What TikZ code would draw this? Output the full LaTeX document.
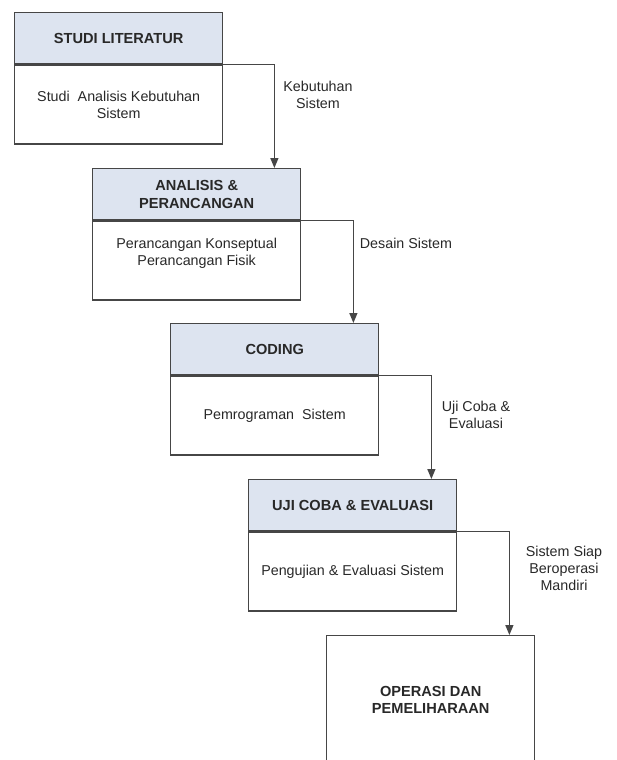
\documentclass[tikz,border=0pt]{standalone}
\usepackage{fontspec}
\setmainfont{Liberation Sans}
\usetikzlibrary{positioning,arrows.meta}
\definecolor{headfill}{RGB}{221,228,240}
\definecolor{edge}{RGB}{70,70,70}
\definecolor{ink}{RGB}{40,40,40}

\begin{document}
\begin{tikzpicture}[x=1pt,y=-1pt,
  font=\fontsize{14.3}{17}\selectfont,
  head/.style={draw=edge,line width=1.4pt,fill=headfill,anchor=north west,
    minimum width=208pt,minimum height=51pt,inner sep=0pt,align=center,
    text=ink,font=\fontsize{14.6}{18}\selectfont\bfseries},
  body/.style={draw=edge,line width=1.4pt,minimum width=208pt,
    minimum height=79pt,inner sep=0pt,align=center,text=ink},
  lbl/.style={align=center,text=ink},
  flow/.style={draw=edge,line width=1.3pt,-{Triangle[length=10pt,width=8pt]}}]
\useasboundingbox (0,0) rectangle (616,760);
\node[head] (litH) at (14,12) {STUDI LITERATUR};
\node[body, below=0pt of litH] (litB) {Studi\ \ Analisis Kebutuhan\\Sistem};
\node[head] (anaH) at (92,168) {ANALISIS \&\\PERANCANGAN};
\node[body, below=0pt of anaH] (anaB) {Perancangan Konseptual\\Perancangan Fisik\\[1pt]};
\node[head] (codH) at (170,323) {CODING};
\node[body, below=0pt of codH] (codB) {Pemrograman\ \ Sistem};
\node[head] (ujiH) at (248,479) {UJI COBA \& EVALUASI};
\node[body, below=0pt of ujiH] (ujiB) {Pengujian \& Evaluasi Sistem};
\node[body, anchor=north west, minimum height=128pt, font=\fontsize{14.6}{17}\selectfont\bfseries] (opr) at (326,635) {OPERASI DAN\\PEMELIHARAAN};
\node[lbl] (k1) at (318,95) {Kebutuhan\\Sistem};
\node[lbl] (k2) at (406,243) {Desain Sistem};
\node[lbl] (k3) at (476,415) {Uji Coba \&\\Evaluasi};
\node[lbl] (k4) at (564,568) {Sistem Siap\\Beroperasi\\Mandiri};
\path[flow] (litH.south east) -| ([xshift=-27pt]anaH.north east);
\path[flow] (anaH.south east) -| ([xshift=-26pt]codH.north east);
\path[flow] (codH.south east) -| ([xshift=-26pt]ujiH.north east);
\path[flow] (ujiH.south east) -| ([xshift=-26pt]opr.north east);
\end{tikzpicture}
\end{document}
